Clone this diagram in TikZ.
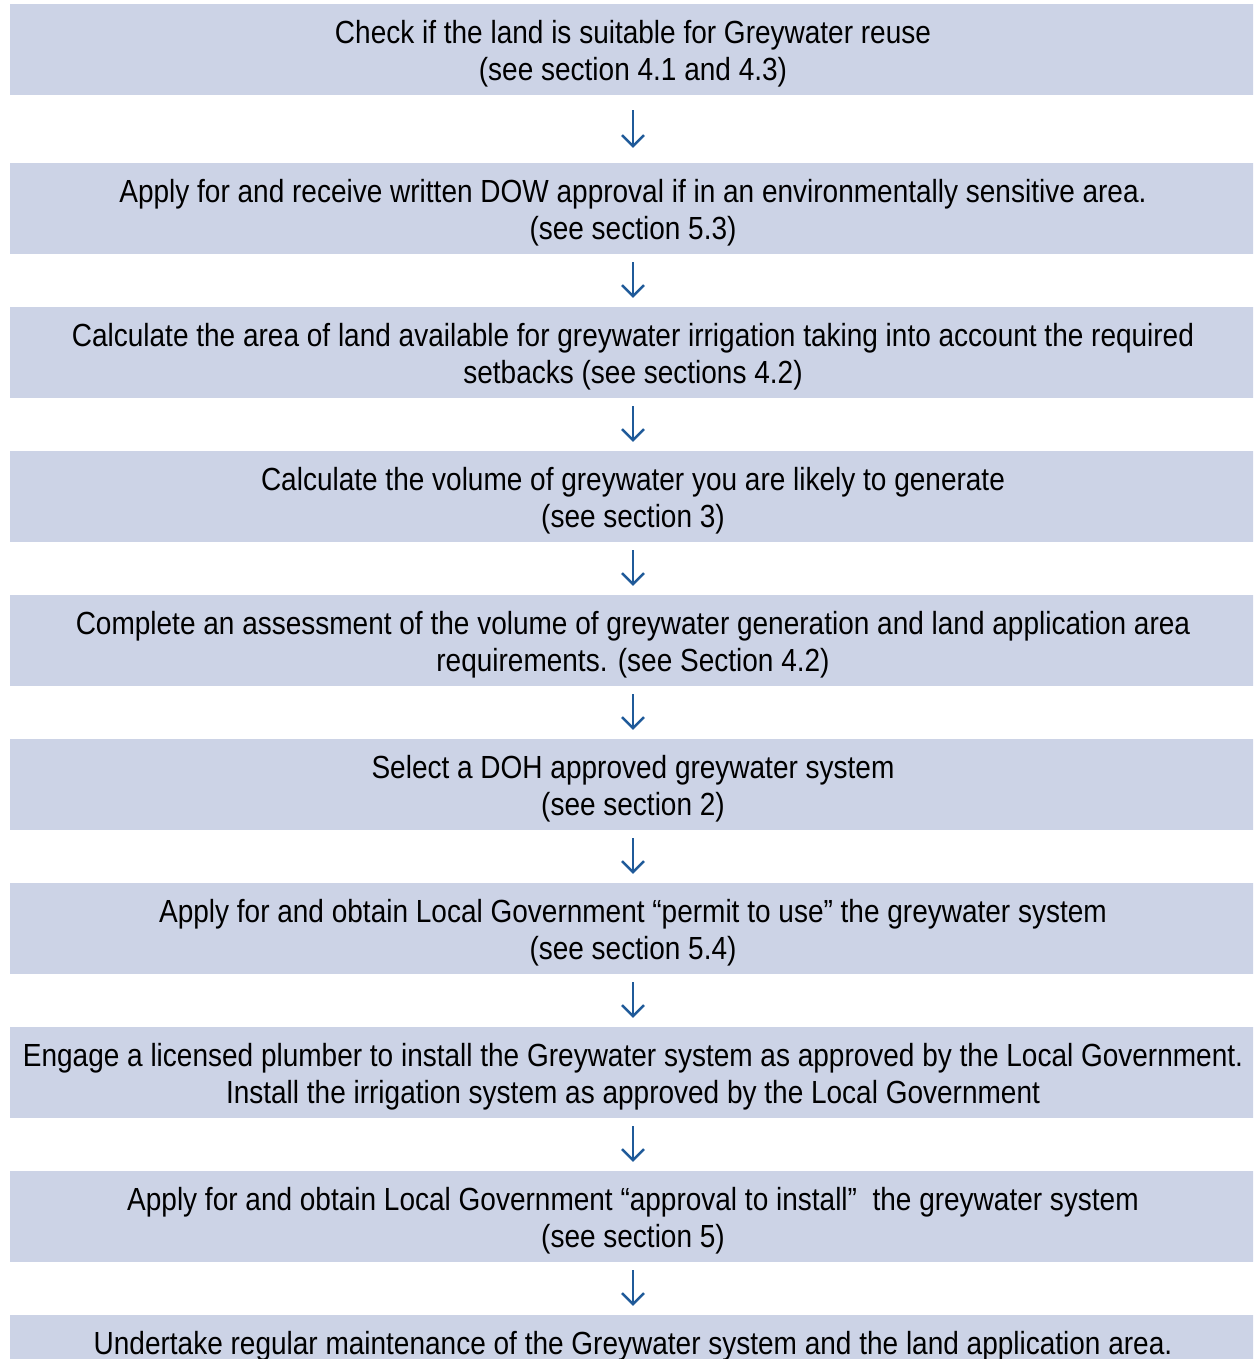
\documentclass[tikz,border=0pt]{standalone}
\usepackage{fontspec}
\setmainfont{Liberation Sans}[FakeStretch=0.875]
\usetikzlibrary{arrows.meta}
\definecolor{boxblue}{HTML}{CCD3E6}
\definecolor{arrowblue}{HTML}{1F5A99}
\tikzset{
    stepbox/.style={fill=boxblue, minimum width=1246pt, minimum height=91pt,
        inner sep=0pt, align=center, text height=62pt, text depth=0pt,
        font=\fontsize{32}{37}\selectfont},
    flow/.style={arrowblue, line width=2.4pt,
        -{Straight Barb[length=11pt,width=22pt,line width=2.4pt]},
        shorten <=8pt, shorten >=9pt}
}
\begin{document}
\begin{tikzpicture}[x=1pt,y=-1pt]
    \useasboundingbox (0,0) rectangle (1253,1359);
    \clip (0,0) rectangle (1253,1359);

    \node[stepbox] (land) at (633,49.5) {Check if the land is suitable for Greywater reuse\\(see section 4.1 and 4.3)};
    \node[stepbox] (dow) at (633,208.5) {Apply for and receive written DOW approval if in an environmentally sensitive area.\\(see section 5.3)};
    \node[stepbox] (area) at (633,352.5) {Calculate the area of land available for greywater irrigation taking into account the required\\setbacks (see sections 4.2)};
    \node[stepbox] (volume) at (633,496.5) {Calculate the volume of greywater you are likely to generate\\(see section 3)};
    \node[stepbox] (assess) at (633,640.5) {Complete an assessment of the volume of greywater generation and land application area\\requirements. (see Section 4.2)};
    \node[stepbox] (system) at (633,784.5) {Select a DOH approved greywater system\\(see section 2)};
    \node[stepbox] (permit) at (633,928.5) {Apply for and obtain Local Government “permit to use” the greywater system\\(see section 5.4)};
    \node[stepbox] (plumber) at (633,1072.5) {Engage a licensed plumber to install the Greywater system as approved by the Local Government.\\Install the irrigation system as approved by the Local Government};
    \node[stepbox] (install) at (633,1216.5) {Apply for and obtain Local Government “approval to install”\ \ the greywater system\\(see section 5)};
    \node[stepbox] (upkeep) at (633,1360.5) {Undertake regular maintenance of the Greywater system and the land application area.\\\strut};

    \draw[flow, shorten <=15pt, shorten >=15pt] (land) -- (dow);
    \draw[flow] (dow) -- (area);
    \draw[flow] (area) -- (volume);
    \draw[flow] (volume) -- (assess);
    \draw[flow] (assess) -- (system);
    \draw[flow] (system) -- (permit);
    \draw[flow] (permit) -- (plumber);
    \draw[flow] (plumber) -- (install);
    \draw[flow] (install) -- (upkeep);
\end{tikzpicture}
\end{document}
